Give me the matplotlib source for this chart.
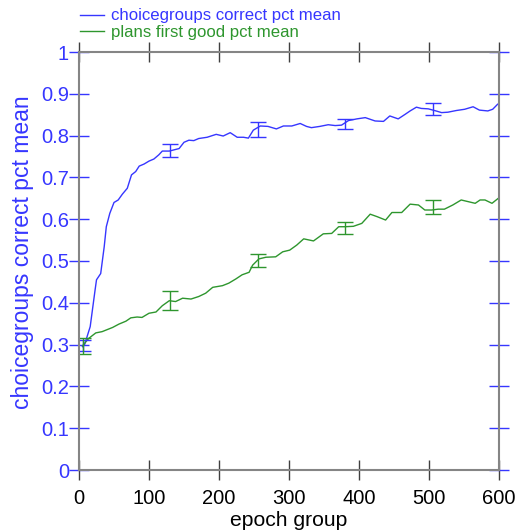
import matplotlib
matplotlib.use("Agg")
import matplotlib.pyplot as plt
import numpy as np

plt.rcParams['font.family'] = ['Liberation Sans', 'DejaVu Sans']

# Blue series: choicegroups correct pct mean
blue_x = [5, 8, 16, 23, 25, 31, 36, 39, 44, 50, 56, 62, 69, 75, 81, 86, 93, 100, 107, 114, 119,
          129, 143, 150, 157, 164, 171, 183, 196, 206, 216, 226, 235, 242, 249, 259, 270, 282,
          292, 304, 316, 325, 332, 344, 356, 366, 375, 385, 397, 409, 423, 435, 444, 456, 466,
          473, 482, 489, 499, 510, 518, 527, 539, 551, 563, 572, 584, 591, 598]
blue_y = [0.295, 0.300, 0.343, 0.431, 0.455, 0.470, 0.534, 0.582, 0.614, 0.640, 0.646, 0.660,
          0.674, 0.706, 0.714, 0.727, 0.732, 0.739, 0.744, 0.754, 0.763,
          0.763, 0.769, 0.784, 0.789, 0.788, 0.793, 0.796, 0.803, 0.799, 0.807, 0.796, 0.796,
          0.794, 0.813, 0.823, 0.822, 0.816, 0.823, 0.823, 0.829, 0.822, 0.819, 0.822, 0.826,
          0.824, 0.825, 0.836, 0.840, 0.843, 0.835, 0.834, 0.847, 0.840, 0.851, 0.859, 0.868,
          0.865, 0.864, 0.859, 0.855, 0.856, 0.860, 0.863, 0.869, 0.861, 0.859, 0.863, 0.875]

# Green series: plans first good pct mean
green_x = [5, 14, 24, 33, 48, 57, 67, 74, 83, 90, 100, 110, 119, 129, 138, 148, 160, 171, 181,
           191, 205, 214, 224, 233, 243, 248, 257, 267, 281, 291, 301, 311, 321, 335, 349,
           361, 371, 380, 392, 404, 416, 426, 438, 447, 461, 473, 485, 494, 504, 513, 522,
           534, 546, 556, 566, 573, 580, 590, 599]
green_y = [0.297, 0.315, 0.328, 0.331, 0.341, 0.349, 0.356, 0.364, 0.366, 0.365, 0.375, 0.378,
           0.393, 0.405, 0.403, 0.411, 0.409, 0.415, 0.423, 0.437, 0.441, 0.447, 0.457, 0.467,
           0.473, 0.490, 0.505, 0.509, 0.510, 0.522, 0.526, 0.538, 0.553, 0.548, 0.565, 0.566,
           0.582, 0.582, 0.583, 0.590, 0.612, 0.606, 0.598, 0.616, 0.616, 0.636, 0.634, 0.622,
           0.622, 0.624, 0.624, 0.634, 0.646, 0.642, 0.638, 0.646, 0.646, 0.638, 0.650]

# Error bars (x, lower, upper)
err_x = [5, 130, 255, 380, 505]
blue_err_lo = [0.285, 0.749, 0.797, 0.816, 0.849]
blue_err_hi = [0.312, 0.779, 0.833, 0.840, 0.878]
green_err_lo = [0.278, 0.383, 0.486, 0.565, 0.612]
green_err_hi = [0.316, 0.428, 0.517, 0.594, 0.647]

x_ticks = [0, 100, 200, 300, 400, 500, 600]
y_ticks = [0, 0.1, 0.2, 0.3, 0.4, 0.5, 0.6, 0.7, 0.8, 0.9, 1.0]
y_ticklabels = ['0', '0.1', '0.2', '0.3', '0.4', '0.5', '0.6', '0.7', '0.8', '0.9', '1']

BLUE = '#3636ff'
GREEN = '#2e962e'

fig = plt.figure(figsize=(5.23, 5.31), dpi=100)
ax = fig.add_axes([79/523, 61/531, 420/523, 418/531])

l1, = ax.plot(blue_x, blue_y, color=BLUE, lw=1.0, label='choicegroups correct pct mean')
l2, = ax.plot(green_x, green_y, color=GREEN, lw=1.0, label='plans first good pct mean')

for xs, lo, hi, c in [(err_x, blue_err_lo, blue_err_hi, BLUE), (err_x, green_err_lo, green_err_hi, GREEN)]:
    mid = [(a + b) / 2 for a, b in zip(lo, hi)]
    err = [[m - a for m, a in zip(mid, lo)], [b - m for m, b in zip(mid, hi)]]
    ax.errorbar(xs, mid, yerr=err, fmt='none', ecolor=c, elinewidth=1.0, capsize=6, capthick=1.0)

ax.set_xlim(0, 600)
ax.set_ylim(0, 1)
ax.set_xticks(x_ticks)
ax.set_yticks(y_ticks)
ax.set_yticklabels(y_ticklabels)

for s in ax.spines.values():
    s.set_color('#858585')
    s.set_linewidth(1.5)

ax.tick_params(axis='x', which='both', direction='inout', length=14.5, width=1, color='#404040',
               labelsize=14.5, labelcolor='black', top=True, bottom=True, pad=6.5)
ax.tick_params(axis='y', which='both', direction='inout', length=14.5, width=1, color=BLUE,
               labelsize=14.5, labelcolor=BLUE, left=True, right=True, pad=0)

ax.set_xlabel('epoch group', fontsize=15.2, color='black')
ax.xaxis.set_label_coords(0.5, -0.098)
ax.set_ylabel('choicegroups correct pct mean', fontsize=16.5, color=BLUE)
ax.yaxis.set_label_coords(-0.107, 0.52)

leg = fig.legend(handles=[l1, l2], loc='upper left', bbox_to_anchor=(72/523, 1.0),
                 frameon=False, fontsize=12.1, handlelength=1.4, handletextpad=0.4,
                 labelspacing=0.1, borderaxespad=0.1)
leg.get_texts()[0].set_color(BLUE)
leg.get_texts()[1].set_color(GREEN)

fig.savefig('out.png', dpi=100)
